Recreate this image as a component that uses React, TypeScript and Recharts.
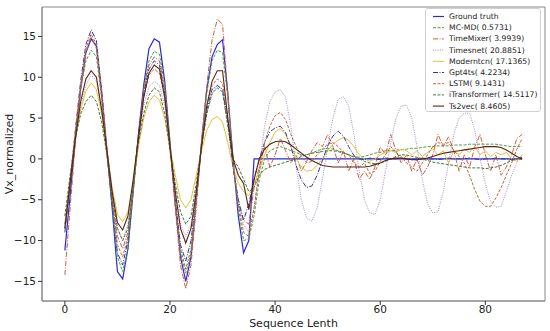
import React from 'react';
import { LineChart, Line, XAxis, YAxis, Legend, ReferenceArea } from 'recharts';

// values, index 0..87
const groundTruth = [
  -11.2, -4.5, 2.5, 8.5, 13, 14.7, 13.8, 8, 1, -6, -13.8, -14.7, -11, -4, 3, 9, 13.5, 14.7,
  14.3, 9.5, 2, -5.5, -12, -15, -12, -5, 2, 8.5, 12.5, 14, 14.6, 8, 0, -7, -11.5, -10,
  0, 0, 0, 0, 0, 0, 0, 0, 0, 0, 0, 0, 0,
  0, 0, 0, 0, 0, 0, 0, 0, 0, 0, 0, 0, 0,
  0, 0, 0, 0, 0, 0, 0, 0, 0, 0, 0, 0, 0,
  0, 0, 0, 0, 0, 0, 0, 0, 0, 0, 0, 0, 0,
];
const mcmd = [
  -8.5, -3, 3, 8.5, 12, 13.3, 12.5, 7.5, 1, -6, -12, -13.8, -11, -4, 2.5, 8.5, 12, 13.2,
  12.8, 9, 2, -5, -11, -13.5, -11, -5, 2, 8, 12, 13.3, 13, 7.5, 0, -6, -10, -9.8,
  -7, -2.5, 0, 1, 1.3, 1.5, 1.3, 1, 0.8, 0.5, 0.5, 0.7, 1,
  1.2, 1.3, 1.2, 1, 0.8, 0.5, 0.3, 0.2, 0.3, 0.5, 0.7, 0.8, 1,
  1, 1.1, 1.1, 1.2, 1.3, 1.3, 1.4, 1.5, 1.5, 1.6, 1.6, 1.6, 1.7,
  1.7, 1.7, 1.8, 1.8, 1.8, 1.8, 1.8, 1.8, 1.7, 1.6, 1.5, 1.5, 1.5,
];
const timeMixer = [
  -14.2, -6, 2, 8.5, 13, 15, 13.5, 7.5, 0.5, -5, -9.5, -11, -9, -3.5, 3, 8.5, 11.5, 12.5,
  12, 8.5, 1.5, -6, -13, -15.9, -13, -6, 2, 9, 14.5, 17.1, 16.5, 8, -1, -5.5, -7.5, -8,
  -3.5, -1, 1.5, -1, 0.5, 2.5, 1, -0.5, 0.5, -1.5, -0.3, 1, 2,
  1.5, 3, 1.5, -0.5, 1, -1.5, 0, -2.5, -1.5, -2.5, -1, 1.5, 0.5,
  3, 1, -0.5, 0.5, -1.5, 0, -2, -1, 0.5, 3, 1.5, 2.7, 1,
  -1.5, 0.5, -1, 1.5, 3, 0.5, -1.5, 0.5, -2, -1, 0.5, 2.5, 3,
];
const timesnet = [
  -8, -2.5, 2.5, 6.5, 9, 10.3, 9.5, 6, 1, -4, -8.5, -10, -8, -3, 2, 6.5, 8.8, 9.5,
  9, 6.5, 1.5, -3.5, -8, -9.5, -8, -3.5, 1.5, 5.5, 8, 9, 8.5, 4.5, -1, -5, -8, -9,
  -6, -1, 4, 7, 8.2, 8.5, 7.5, 4, -1, -5, -7.3, -7.6, -6,
  -2.5, 1.5, 5, 7.3, 7.6, 6.5, 3, -1.5, -5, -6.6, -6.8, -5, -1.5,
  2, 5, 6.5, 6.6, 5, 1.5, -2.5, -5.5, -6.6, -6.5, -4, -0.5, 3,
  5, 5.6, 5.6, 3.5, 0, -3, -5.3, -5.9, -5.8, -4, -2, -0.5, 0.5,
];
const moderntcn = [
  -8, -2.5, 2.5, 6, 8.3, 9.3, 8.5, 5.5, 1, -3.5, -6.8, -7.7, -6.5, -3, 1.5, 5, 7, 7.8,
  7.2, 5, 1.5, -2, -5, -6, -5, -2, 1, 3.5, 4.8, 5.2, 4.5, 2, -1, -3, -4, -4.5,
  -3, -1.5, 0.5, 2, 3.3, 3.7, 3, 1.5, 0, -1, -1.5, -1.4, -0.8,
  0, 1, 1.8, 2.3, 2.6, 2.3, 1.5, 0.5, 0, -0.3, 0, 0.5, 0.8,
  1, 0.8, 1.2, 1, 0.5, 1, 0.3, 0.8, 1.2, 0.5, 1, -0.5, 1,
  0.5, 1.2, 0.8, 1.5, 0.5, 1, 0.3, 0.8, 0.5, 0.8, 0, -0.3, 0.5,
];
const gpt4ts = [
  -9, -3, 3.5, 9.5, 14, 15.8, 14.5, 8.5, 1, -5.5, -11.5, -13, -10, -3.5, 3, 8, 11, 12,
  11.5, 8, 1.5, -5, -10.5, -12.5, -10, -4.5, 1.5, 6, 8.5, 9, 8.5, 4.5, -1, -5, -7.5, -5.5,
  -2.5, 0, 2, 3.3, 3.8, 4, 3.2, 1.5, -0.8, -2.6, -3.5, -3.3, -2,
  -0.2, 1.6, 2.8, 3.4, 2.8, 1.5, 0.4, 0, -0.1, 0.1, 0, -0.1, 0.1,
  0, 0, 0.1, 0, -0.1, 0, 0.1, 0, 0, -0.1, 0, 0.1, 0,
  0, 0, 0.1, 0, -0.1, 0, 0, 0.1, 0, 0, -0.1, 0, 0,
];
const lstm = [
  -8, -2.5, 3.5, 9, 13.5, 15.3, 14, 8.5, 1.5, -4.5, -10.5, -12, -9.5, -3.5, 2.5, 7.5, 10.3, 11,
  10.5, 7.5, 1.5, -5, -11.5, -14, -11.5, -5, 1.5, 6.5, 9, 9.8, 9.3, 5, -0.5, -5.5, -9, -9.5,
  -6, -1.5, 2, 4, 5.3, 5.7, 4.8, 3, 1.5, 0.3, -0.5, -0.3, 0.5,
  1.2, 1.8, 2, 1.5, 0.8, 0.5, -0.5, -1, -0.5, -1.8, -1.5, -0.3, 0.5,
  1.5, 0.8, 0.3, -0.5, -1, -1.5, -0.5, 0.5, 1.5, 2, 1.8, 2, 1,
  0.3, -0.5, -2, -3.8, -5.2, -5.8, -5.8, -4.8, -3.5, -2, -0.5, 1.2, 2.5,
];
const iTransformer = [
  -7, -2, 2.5, 5.5, 7, 7.8, 7, 4.5, 0.5, -4.5, -8.5, -10, -8.5, -3.5, 2, 5.5, 7.8, 8.7,
  8.2, 5.5, 1, -3, -6.5, -8, -7, -3, 1.5, 5.5, 8, 8.7, 8.2, 4, 0, -1, -2.5, -4,
  -3.5, -2, -1.3, -1, -0.8, -0.6, -0.4, -0.2, 0, 0.3, 0.5, 0.7, 0.8,
  0.9, 1, 1, 0.9, 0.7, 0.5, 0.2, 0, -0.3, -0.5, -0.6, -0.5, -0.3,
  0, 0.3, 0.5, 0.5, 0.3, 0.2, 0, -0.2, -0.4, -0.5, -0.6, -0.7, -0.8,
  -0.9, -1, -1.1, -1.1, -1.1, -1.2, -1.1, -1, -0.8, -0.5, -0.2, 0, 0.2,
];
const ts2vec = [
  -8.5, -3, 2.5, 7, 9.8, 10.8, 10, 6, 1, -4, -7.8, -8.7, -7, -2.5, 2.5, 7.5, 10.5, 11.5,
  11, 7.5, 1.5, -4, -8.5, -10.3, -8.5, -4, 1.5, 6.5, 9.5, 10.8, 10.8, 5, 0, -2, -3, -6.2,
  -2.5, 0, 1.2, 1.8, 2.1, 2.2, 2.1, 1.7, 1.2, 0.7, 0.2, -0.2, -0.5,
  -0.8, -0.9, -1, -1, -1, -1, -1, -1, -1, -0.9, -0.7, -0.5, -0.2,
  0, 0.1, 0.1, 0, -0.1, -0.1, 0, 0.1, 0.3, 0.5, 0.7, 0.8, 0.9,
  1, 1.1, 1.2, 1.3, 1.4, 1.5, 1.5, 1.5, 1.4, 1.1, 0.7, 0.3, 0,
];

const xTicks = [0, 20, 40, 60, 80];
const yTicks = [-15, -10, -5, 0, 5, 10, 15];
const xDomain = [-4.35, 91.35];
const yDomain = [-17.4, 18.6];

const seriesNames = [
  'Ground truth',
  'MC-MD( 0.5731)',
  'TimeMixer( 3.9939)',
  'Timesnet( 20.8851)',
  'Moderntcn( 17.1365)',
  'Gpt4ts( 4.2234)',
  'LSTM( 9.1431)',
  'iTransformer( 14.5117)',
  'Ts2vec( 8.4605)',
];
const seriesValues = [groundTruth, mcmd, timeMixer, timesnet, moderntcn, gpt4ts, lstm, iTransformer, ts2vec];

const styles = [
  { color: '#2a2ad2', dash: undefined, width: 1.2 },
  { color: '#4c9e3c', dash: '3 1.5', width: 1 },
  { color: '#cc6040', dash: '5 1.5 1 1.5', width: 1 },
  { color: '#a58ad0', dash: '1 1.3', width: 1 },
  { color: '#e4c040', dash: undefined, width: 1 },
  { color: '#34349e', dash: '5 1.5 1 1.5', width: 1 },
  { color: '#b86c44', dash: '3 1.5', width: 1 },
  { color: '#3f7a36', dash: '3 1.5', width: 1 },
  { color: '#5a2414', dash: undefined, width: 1.1 },
];

const keys = seriesNames.map((_, i) => `s${i}`);

const data = groundTruth.map((_, i) => {
  const row: Record<string, number> = { x: i };
  seriesValues.forEach((vals, k) => {
    row[keys[k]] = vals[i];
  });
  return row;
});

const FONT = '"DejaVu Sans", sans-serif';
const fmt = (v: number) => String(v).replace('-', '\u2212');

const LegendBox = () => (
  <div
    style={{
      width: 116,
      height: 104,
      background: 'rgba(255,255,255,0.85)',
      border: '1px solid #d0d0d0',
      borderRadius: 3,
      boxSizing: 'border-box',
    }}
  >
    <svg width={114} height={102} style={{ display: 'block' }}>
      {seriesNames.map((name, i) => {
        const y = 7.5 + i * 11.2;
        const s = styles[i];
        return (
          <g key={name}>
            <line x1={7} x2={18} y1={y} y2={y} stroke={s.color} strokeWidth={s.width} strokeDasharray={s.dash} />
            <text x={23} y={y} dominantBaseline="central" fontSize={7.7} fontFamily={FONT} fill="#222">
              {name}
            </text>
          </g>
        );
      })}
    </svg>
  </div>
);

const YLabel = ({ viewBox }: any) => {
  const cy = viewBox.y + viewBox.height / 2;
  return (
    <text x={9} y={cy} transform={`rotate(-90, 9, ${cy})`} textAnchor="middle" dominantBaseline="central" fontSize={11} fontFamily={FONT} fill="#222">
      Vx_normalized
    </text>
  );
};

const XLabel = ({ viewBox }: any) => {
  const cx = viewBox.x + viewBox.width / 2;
  return (
    <text x={cx} y={323} textAnchor="middle" dominantBaseline="central" fontSize={11} fontFamily={FONT} fill="#222">
      Sequence Lenth
    </text>
  );
};

export default function App() {
  return (
    <div style={{ position: 'absolute', left: 0, top: 0, width: 550, height: 331, background: '#fff' }}>
      <LineChart width={550} height={331} data={data} margin={{ top: 7, right: 5, left: 0, bottom: 0 }}>
        <XAxis
          dataKey="x"
          type="number"
          domain={xDomain}
          ticks={xTicks}
          allowDataOverflow
          height={30}
          tickSize={4}
          tickMargin={1}
          stroke="#888"
          tick={{ fill: '#222', fontSize: 10.5, fontFamily: FONT }}
          tickLine={{ stroke: '#333' }}
          tickFormatter={fmt}
          label={<XLabel />}
        />
        <YAxis
          type="number"
          domain={yDomain}
          ticks={yTicks}
          allowDataOverflow
          width={42}
          tickSize={4}
          tickMargin={2}
          stroke="#888"
          tick={{ fill: '#222', fontSize: 10.5, fontFamily: FONT }}
          tickLine={{ stroke: '#333' }}
          tickFormatter={fmt}
          label={<YLabel />}
        />
        <ReferenceArea
          x1={xDomain[0]}
          x2={xDomain[1]}
          y1={yDomain[0]}
          y2={yDomain[1]}
          fill="none"
          stroke="#888"
          strokeWidth={1}
          ifOverflow="extendDomain"
        />
        {keys.map((k, i) => (
          <Line
            key={k}
            dataKey={k}
            name={seriesNames[i]}
            type="linear"
            stroke={styles[i].color}
            strokeWidth={styles[i].width}
            strokeDasharray={styles[i].dash}
            dot={false}
            activeDot={false}
            isAnimationActive={false}
          />
        ))}
        <Legend
          layout="vertical"
          align="center"
          verticalAlign="middle"
          wrapperStyle={{ left: 425, top: 8, width: 116 }}
          content={() => <LegendBox />}
        />
      </LineChart>
    </div>
  );
}
